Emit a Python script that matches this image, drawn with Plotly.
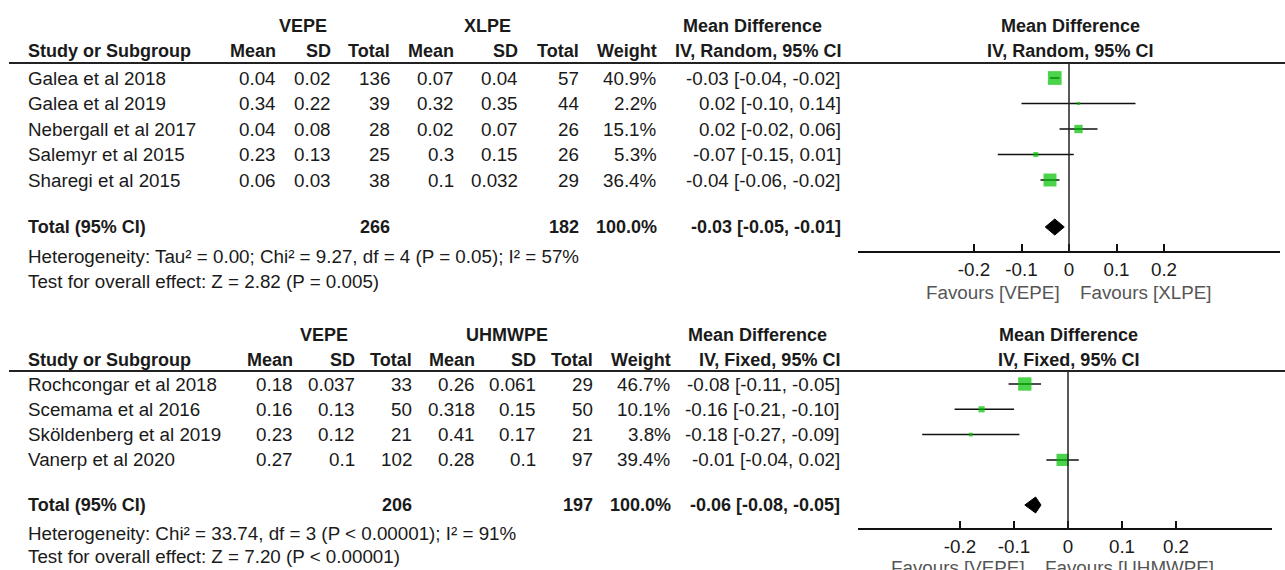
import plotly.graph_objects as go

# ---------------- data ----------------
top_studies = ["Galea et al 2018", "Galea et al 2019", "Nebergall et al 2017", "Salemyr et al 2015", "Sharegi et al 2015"]
top_vepe_mean = [0.04, 0.34, 0.04, 0.23, 0.06]
top_vepe_sd = [0.02, 0.22, 0.08, 0.13, 0.03]
top_vepe_n = [136, 39, 28, 25, 38]
top_xlpe_mean = [0.07, 0.32, 0.02, 0.3, 0.1]
top_xlpe_sd = [0.04, 0.35, 0.07, 0.15, 0.032]
top_xlpe_n = [57, 44, 26, 26, 29]
top_weight = [40.9, 2.2, 15.1, 5.3, 36.4]
top_md = [-0.03, 0.02, 0.02, -0.07, -0.04]
top_lo = [-0.04, -0.10, -0.02, -0.15, -0.06]
top_hi = [-0.02, 0.14, 0.06, 0.01, -0.02]
top_total_n = [266, 182]
top_total_ci = [-0.03, -0.05, -0.01]
top_het = "Heterogeneity: Tau² = 0.00; Chi² = 9.27, df = 4 (P = 0.05); I² = 57%"
top_test = "Test for overall effect: Z = 2.82 (P = 0.005)"

bot_studies = ["Rochcongar et al 2018", "Scemama et al 2016", "Sköldenberg et al 2019", "Vanerp et al 2020"]
bot_vepe_mean = [0.18, 0.16, 0.23, 0.27]
bot_vepe_sd = [0.037, 0.13, 0.12, 0.1]
bot_vepe_n = [33, 50, 21, 102]
bot_uhm_mean = [0.26, 0.318, 0.41, 0.28]
bot_uhm_sd = [0.061, 0.15, 0.17, 0.1]
bot_uhm_n = [29, 50, 21, 97]
bot_weight = [46.7, 10.1, 3.8, 39.4]
bot_md = [-0.08, -0.16, -0.18, -0.01]
bot_lo = [-0.11, -0.21, -0.27, -0.04]
bot_hi = [-0.05, -0.10, -0.09, 0.02]
bot_total_n = [206, 197]
bot_total_ci = [-0.06, -0.08, -0.05]
bot_het = "Heterogeneity: Chi² = 33.74, df = 3 (P &lt; 0.00001); I² = 91%"
bot_test = "Test for overall effect: Z = 7.20 (P &lt; 0.00001)"

tick_vals = [-0.2, -0.1, 0, 0.1, 0.2]
tick_text = ["-0.2", "-0.1", "0", "0.1", "0.2"]

# ---------------- layout constants ----------------
W, H = 1285, 570
FONT = "Liberation Sans, Arial, sans-serif"
FS = 18.8
FSB = 18
TXT = "#1a1a1a"
GREEN = "#00c000"

fig = go.Figure()
annotations = []
shapes = []


def txt(x, y, s, anchor="left", bold=False, color=TXT):
    annotations.append(dict(
        x=x / W, y=y, xref="paper", yref="y", text=("<b>%s</b>" % s) if bold else s,
        showarrow=False, xanchor=anchor, yanchor="middle",
        font=dict(family=FONT, size=FSB if bold else FS, color=color)))


def fmt(v):
    return str(v)


def ci_str(m, l, h):
    return "%.2f [%.2f, %.2f]" % (m, l, h)


def panel(p):
    # headers
    txt(p["g1c"], p["h1"], p["g1"], "center", True)
    txt(p["g2c"], p["h1"], p["g2"], "center", True)
    txt(p["mdc"], p["h1"], "Mean Difference", "center", True)
    txt(26, p["h2"], "Study or Subgroup", "left", True)
    cols = p["cols"]
    for name, cx in zip(["Mean", "SD", "Total", "Mean", "SD", "Total", "Weight", p["method"]], cols):
        txt(cx, p["h2"], name, "right", True)
    # forest header
    txt(p["fc"], p["h1"], "Mean Difference", "center", True)
    txt(p["fc"], p["h2"], p["method"], "center", True)
    # rule
    shapes.append(dict(type="line", xref="paper", yref="y", x0=9 / W, x1=1, y0=p["rule"], y1=p["rule"],
                       line=dict(color="#222", width=2)))
    # rows
    for i, s in enumerate(p["studies"]):
        y = p["r0"] + i * p["dr"]
        txt(26, y, s)
        vals = [fmt(p["m1"][i]), fmt(p["s1"][i]), str(p["n1"][i]),
                fmt(p["m2"][i]), fmt(p["s2"][i]), str(p["n2"][i]),
                "%.1f%%" % p["w"][i], ci_str(p["md"][i], p["lo"][i], p["hi"][i])]
        for v, cx in zip(vals, cols):
            txt(cx, y, v, "right")
    # total row
    ty = p["tot"]
    txt(26, ty, "Total (95% CI)", "left", True)
    txt(cols[2], ty, str(p["tn"][0]), "right", True)
    txt(cols[5], ty, str(p["tn"][1]), "right", True)
    txt(cols[6], ty, "100.0%", "right", True)
    txt(cols[7], ty, ci_str(*p["tci"]), "right", True)
    txt(26, p["het"], p["hets"])
    txt(26, p["test"], p["tests"])
    # favours
    txt(p["favL"], p["fav"], p["favLs"], "right", color="#555")
    txt(p["favR"], p["fav"], p["favRs"], "left", color="#555")

    xa = p["xa"]
    ys = [p["r0"] + i * p["dr"] for i in range(len(p["studies"]))]
    # CI lines
    lx, ly = [], []
    for i, y in enumerate(ys):
        lx += [p["lo"][i], p["hi"][i], None]
        ly += [y, y, None]
    fig.add_trace(go.Scatter(x=lx, y=ly, xaxis=xa, yaxis="y", mode="lines",
                             line=dict(color="#111", width=1.5), hoverinfo="skip", showlegend=False))
    # squares
    fig.add_trace(go.Scatter(x=p["md"], y=ys, xaxis=xa, yaxis="y", mode="markers",
                             marker=dict(symbol="square", color=GREEN,
                                         size=[p["k"] * w ** 0.5 for w in p["w"]],
                                         line=dict(width=0)),
                             showlegend=False))
    # diamond
    m, l, h = p["tci"]
    fig.add_trace(go.Scatter(x=[l, m, h, m, l], y=[ty, ty - 8, ty, ty + 8, ty], xaxis=xa, yaxis="y",
                             mode="lines", fill="toself", fillcolor="black",
                             line=dict(color="black", width=1), showlegend=False))
    # zero line
    shapes.append(dict(type="line", xref=xa, yref="y", x0=0, x1=0, y0=p["rule"], y1=p["axis"],
                       line=dict(color="#222", width=1.5)))


top = dict(g1="VEPE", g2="XLPE", g1c=303, g2c=487, mdc=752, fc=1070, method="IV, Random, 95% CI",
           h1=26, h2=51, rule=63, r0=78, dr=25.5, tot=227, het=256, test=281, fav=292, axis=252,
           cols=[278, 333, 392, 456, 520, 581, 659, 843],
           studies=top_studies, m1=top_vepe_mean, s1=top_vepe_sd, n1=top_vepe_n,
           m2=top_xlpe_mean, s2=top_xlpe_sd, n2=top_xlpe_n, w=top_weight,
           md=top_md, lo=top_lo, hi=top_hi, tn=top_total_n, tci=top_total_ci,
           hets=top_het, tests=top_test, favL=1062, favR=1078,
           favLs="Favours [VEPE]", favRs="Favours [XLPE]", xa="x", k=2.15)
bot = dict(g1="VEPE", g2="UHMWPE", g1c=324, g2c=507, mdc=757, fc=1068, method="IV, Fixed, 95% CI",
           h1=335, h2=360, rule=371, r0=384, dr=25.3, tot=505, het=533, test=556, fav=567, axis=529,
           cols=[295, 357, 414, 477, 538, 595, 673, 842],
           studies=bot_studies, m1=bot_vepe_mean, s1=bot_vepe_sd, n1=bot_vepe_n,
           m2=bot_uhm_mean, s2=bot_uhm_sd, n2=bot_uhm_n, w=bot_weight,
           md=bot_md, lo=bot_lo, hi=bot_hi, tn=bot_total_n, tci=bot_total_ci,
           hets=bot_het, tests=bot_test, favL=1027, favR=1043,
           favLs="Favours [VEPE]", favRs="Favours [UHMWPE]", xa="x2", k=1.95)

panel(top)
panel(bot)


def xaxis_cfg(x0, x1, zero, ppu, axis_y):
    return dict(domain=[x0 / W, x1 / W], range=[(x0 - zero) / ppu, (x1 - zero) / ppu],
                anchor="free", position=1 - axis_y / H, side="bottom",
                tickvals=tick_vals, ticktext=tick_text, ticks="inside", ticklen=7, tickwidth=1.5,
                tickcolor="#111", showline=True, linewidth=1.5, linecolor="#111",
                showgrid=False, zeroline=False, fixedrange=True,
                tickfont=dict(family=FONT, size=FS, color=TXT), ticklabelstandoff=1)


fig.update_layout(
    width=W, height=H, margin=dict(l=0, r=0, t=0, b=0),
    paper_bgcolor="white", plot_bgcolor="rgba(0,0,0,0)",
    xaxis=xaxis_cfg(858, 1280, 1069, 475, 252),
    xaxis2=xaxis_cfg(858, 1272, 1068, 540, 529),
    yaxis=dict(domain=[0, 1], range=[H, 0], visible=False, fixedrange=True),
    annotations=annotations, shapes=shapes, showlegend=False,
)

fig.write_html("out.html", config={"displayModeBar": False},
               post_script="document.body.style.margin='0px';document.body.style.overflow='hidden';")
